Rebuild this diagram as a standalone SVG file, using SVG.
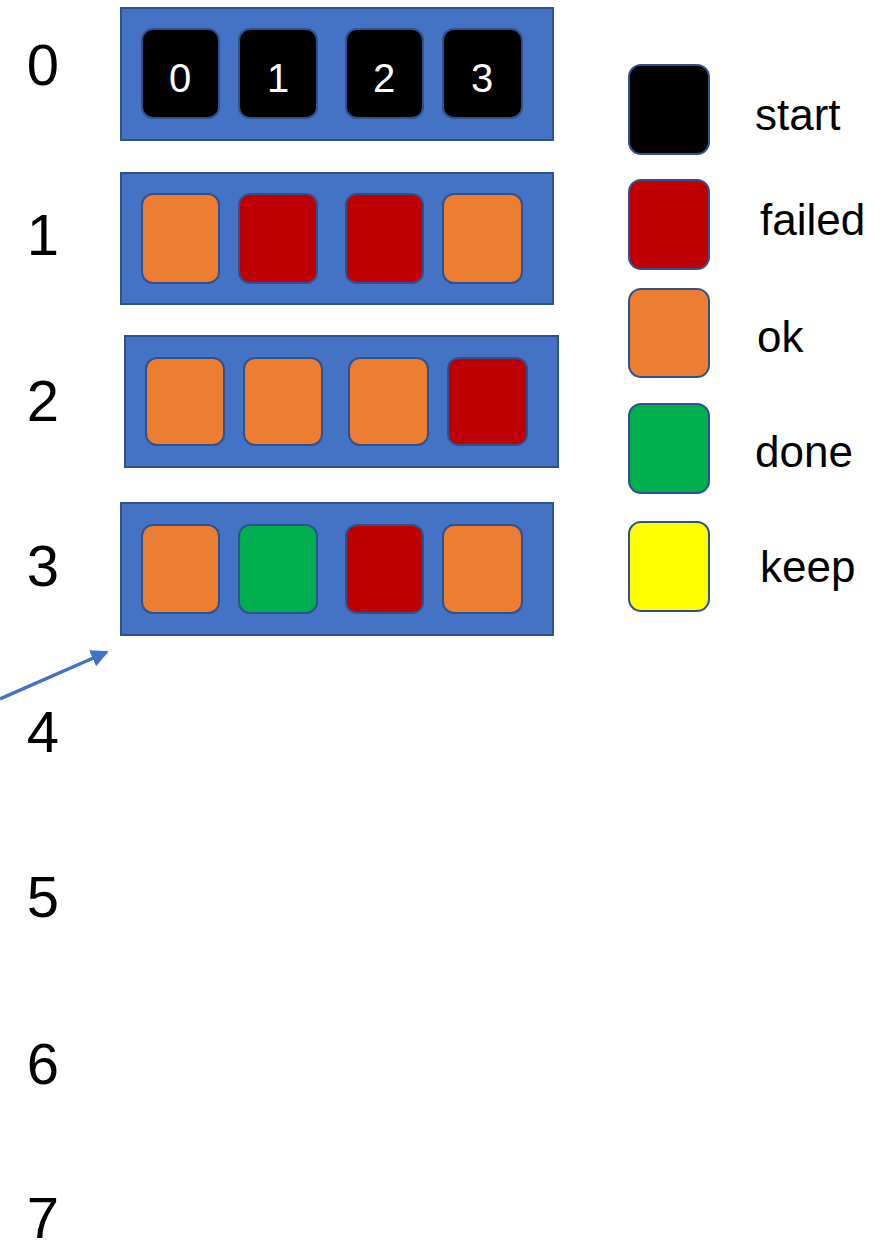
<svg xmlns="http://www.w3.org/2000/svg" width="886" height="1252" viewBox="0 0 886 1252">
<style>
.box{fill:#4472C4;stroke:#2F528F;stroke-width:2}
.cell{stroke:#2F528F;stroke-width:2}
.k{fill:#000000}.r{fill:#C00000}.o{fill:#ED7D31}.g{fill:#00B050}.y{fill:#FFFF00}
.num{font-family:"Liberation Sans",Arial,sans-serif;font-size:58px;fill:#000;text-anchor:middle}
.ct{font-family:"Liberation Sans",Arial,sans-serif;font-size:40px;fill:#fff;text-anchor:middle}
.lg{font-family:"Liberation Sans",Arial,sans-serif;font-size:44px;fill:#000}
</style>
<defs>
<marker id="ah" viewBox="0 0 10 10" refX="9" refY="5" markerWidth="5" markerHeight="5" orient="auto" markerUnits="strokeWidth">
<path d="M0,0 L10,5 L0,10 z" fill="#4472C4"/>
</marker>
</defs>
<rect width="886" height="1252" fill="#fff"/>
<g id="labels">
<text class="num" x="43" y="85">0</text>
<text class="num" x="43" y="255">1</text>
<text class="num" x="43" y="421">2</text>
<text class="num" x="43" y="586">3</text>
<text class="num" x="43" y="752">4</text>
<text class="num" x="43" y="917">5</text>
<text class="num" x="43" y="1084">6</text>
<text class="num" x="43" y="1238">7</text>
</g>
<g id="row0">
<rect class="box" x="121" y="8" width="432" height="132"/>
<rect class="cell k" x="142" y="29" width="77" height="89" rx="11"/>
<rect class="cell k" x="239" y="29" width="78" height="89" rx="11"/>
<rect class="cell k" x="346" y="29" width="77" height="89" rx="11"/>
<rect class="cell k" x="443" y="29" width="79" height="89" rx="11"/>
<text class="ct" x="180" y="92">0</text>
<text class="ct" x="278" y="92">1</text>
<text class="ct" x="384" y="92">2</text>
<text class="ct" x="482" y="92">3</text>
</g>
<g id="row1">
<rect class="box" x="121" y="173" width="432" height="131"/>
<rect class="cell o" x="142" y="194" width="77" height="89" rx="11"/>
<rect class="cell r" x="239" y="194" width="78" height="89" rx="11"/>
<rect class="cell r" x="346" y="194" width="77" height="89" rx="11"/>
<rect class="cell o" x="443" y="194" width="79" height="89" rx="11"/>
</g>
<g id="row2">
<rect class="box" x="125" y="336" width="433" height="131"/>
<rect class="cell o" x="146" y="358" width="78" height="87" rx="11"/>
<rect class="cell o" x="244" y="358" width="78" height="87" rx="11"/>
<rect class="cell o" x="349" y="358" width="79" height="87" rx="11"/>
<rect class="cell r" x="448" y="358" width="79" height="87" rx="11"/>
</g>
<g id="row3">
<rect class="box" x="121" y="503" width="432" height="132"/>
<rect class="cell o" x="142" y="525" width="77" height="88" rx="11"/>
<rect class="cell g" x="239" y="525" width="78" height="88" rx="11"/>
<rect class="cell r" x="346" y="525" width="77" height="88" rx="11"/>
<rect class="cell o" x="443" y="525" width="79" height="88" rx="11"/>
</g>
<g id="legend">
<g id="legend-start"><rect class="cell k" x="629" y="65" width="80" height="89" rx="12"/><text class="lg" x="755" y="130">start</text></g>
<g id="legend-failed"><rect class="cell r" x="629" y="180" width="80" height="89" rx="12"/><text class="lg" x="760" y="235">failed</text></g>
<g id="legend-ok"><rect class="cell o" x="629" y="289" width="80" height="88" rx="12"/><text class="lg" x="757" y="352">ok</text></g>
<g id="legend-done"><rect class="cell g" x="629" y="404" width="80" height="89" rx="12"/><text class="lg" x="755" y="467">done</text></g>
<g id="legend-keep"><rect class="cell y" x="629" y="522" width="80" height="89" rx="12"/><text class="lg" x="760" y="582">keep</text></g>
</g>
<g id="connectors">
<line x1="0" y1="699" x2="107" y2="652" stroke="#4472C4" stroke-width="3.5" marker-end="url(#ah)"/>
</g>
</svg>
